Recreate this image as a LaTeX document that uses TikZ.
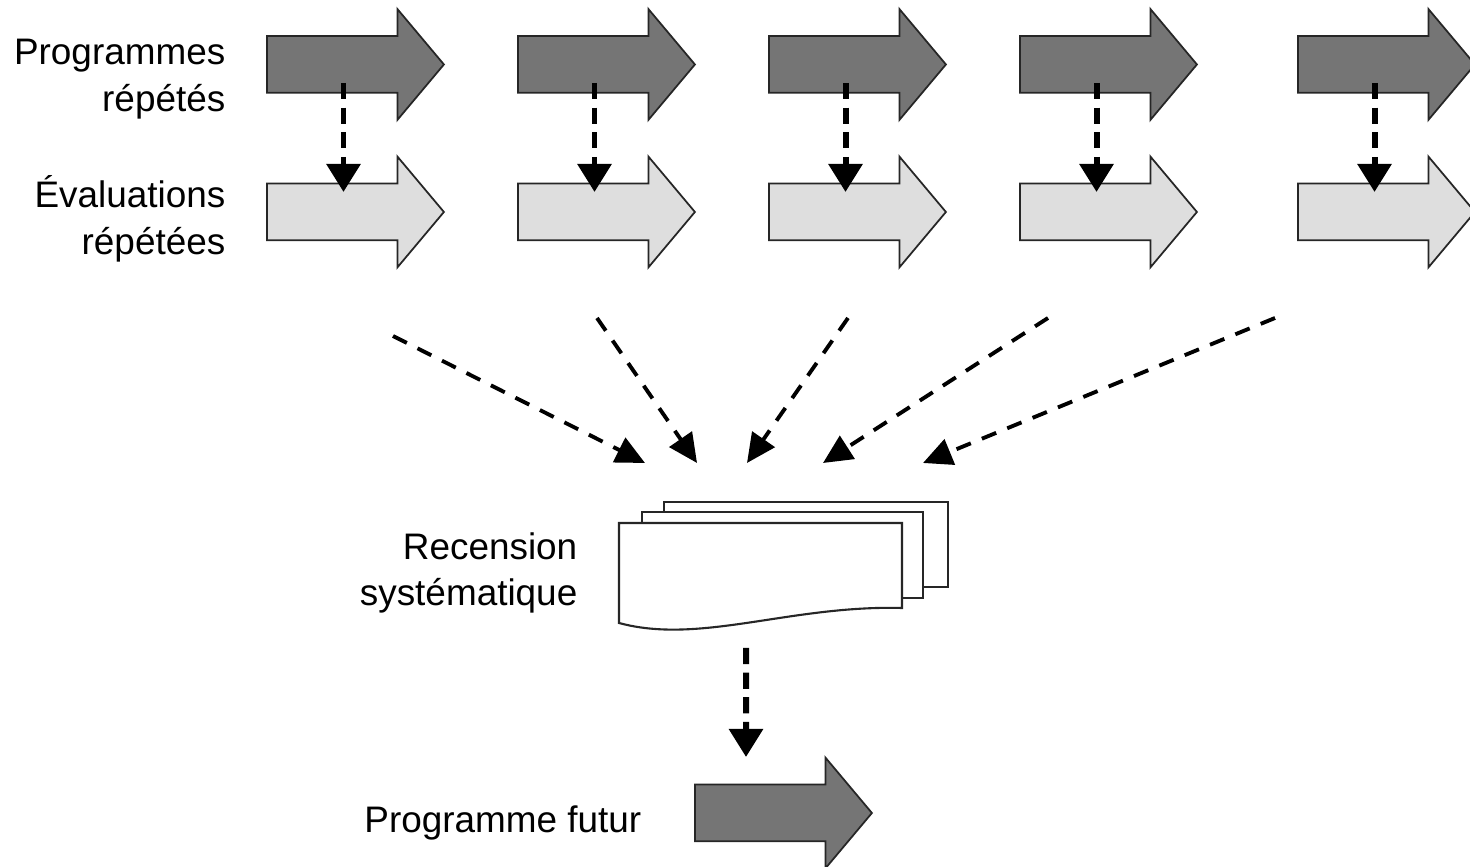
\documentclass[tikz,border=0pt]{standalone}
\usepackage{fontspec}
\setmainfont{Liberation Sans}
\usetikzlibrary{shapes.arrows,arrows.meta,calc}

\tikzset{
	bigarrow/.style={single arrow, draw=black!85, line width=0.5pt, minimum height=1.77cm, minimum width=0pt, inner xsep=0pt, inner ysep=0.275cm, single arrow head extend=0.27cm, single arrow tip angle=100},
	darkarrow/.style={bigarrow, fill=black!54},
	lightarrow/.style={bigarrow, fill=black!13},
	droparrow/.style={line width=1.7pt, dash pattern=on 4.6pt off 2.4pt, -{Triangle[length=0.28cm,width=0.33cm]}},
	feedarrow/.style={line width=1.1pt, dash pattern=on 4.4pt off 3.4pt, -{Triangle[length=0.29cm,width=0.27cm]}},
	sheet/.style={draw=black!85, fill=white, line width=0.6pt},
	lbl/.style={font=\fontsize{10.5}{13.2}\selectfont, align=right, inner sep=0pt}
}

\begin{document}
\begin{tikzpicture}
	%%%%% START %%%%%
	\def\ytop{8.025}
	\def\ybot{6.55}
	\def\xa{3.435}
	\def\xb{5.945}
	\def\xc{8.455}
	\def\xd{10.965}
	\def\xe{13.745}

	\useasboundingbox (0,0) rectangle (14.7,8.67);

	\node[lbl, anchor=east] (lprog) at (2.26,7.88) {Programmes\\répétés};
	\node[lbl, anchor=east] (leval) at (2.26,6.48) {Évaluations\\répétées};

	\node[darkarrow] (p1) at (\xa,\ytop) {};
	\node[darkarrow] (p2) at (\xb,\ytop) {};
	\node[darkarrow] (p3) at (\xc,\ytop) {};
	\node[darkarrow] (p4) at (\xd,\ytop) {};
	\node[darkarrow] (p5) at (\xe,\ytop) {};

	\node[lightarrow] (e1) at (\xa,\ybot) {};
	\node[lightarrow] (e2) at (\xb,\ybot) {};
	\node[lightarrow] (e3) at (\xc,\ybot) {};
	\node[lightarrow] (e4) at (\xd,\ybot) {};
	\node[lightarrow] (e5) at (\xe,\ybot) {};

	\draw[droparrow] ($(p1)+(0,-0.185)$) -- ($(e1)+(0,0.2)$);
	\draw[droparrow] ($(p2)+(0,-0.185)$) -- ($(e2)+(0,0.2)$);
	\draw[droparrow] ($(p3)+(0,-0.185)$) -- ($(e3)+(0,0.2)$);
	\draw[droparrow] ($(p4)+(0,-0.185)$) -- ($(e4)+(0,0.2)$);
	\draw[droparrow] ($(p5)+(0,-0.185)$) -- ($(e5)+(0,0.2)$);

	% feeds into the review
	\coordinate (s1) at (3.93,5.31);
	\coordinate (s2) at (5.97,5.49);
	\coordinate (s3) at (8.48,5.49);
	\coordinate (s4) at (10.48,5.49);
	\coordinate (s5) at (12.75,5.49);
	\coordinate (t1) at (6.45,4.04);
	\coordinate (t2) at (6.97,4.04);
	\coordinate (t3) at (7.47,4.04);
	\coordinate (t4) at (8.23,4.04);
	\coordinate (t5) at (9.23,4.04);
	\draw[feedarrow] (s1) -- (t1);
	\draw[feedarrow] (s2) -- (t2);
	\draw[feedarrow] (s3) -- (t3);
	\draw[feedarrow] (s4) -- (t4);
	\draw[feedarrow] (s5) -- (t5);

	% stack of documents
	\draw[sheet] (6.64,2.80) rectangle (9.48,3.65);
	\draw[sheet] (6.42,2.69) rectangle (9.23,3.55);
	\draw[sheet] (6.19,2.44) -- (6.19,3.44) -- (9.02,3.44) -- (9.02,2.59) .. controls (7.9,2.62) and (7.0,2.22) .. (6.19,2.44) -- cycle;
	\node[lbl, anchor=east] (lrec) at (5.78,2.94) {Recension\\systématique};

	\node[darkarrow] (fut) at (7.715,0.54) {};
	\node[lbl, anchor=east] (lfut) at (6.42,0.44) {Programme futur};
	\coordinate (docout) at (7.46,2.19);
	\draw[droparrow] (docout) -- ($(fut)+(-0.255,0.56)$);
	%%%%% END %%%%%
\end{tikzpicture}
\end{document}
